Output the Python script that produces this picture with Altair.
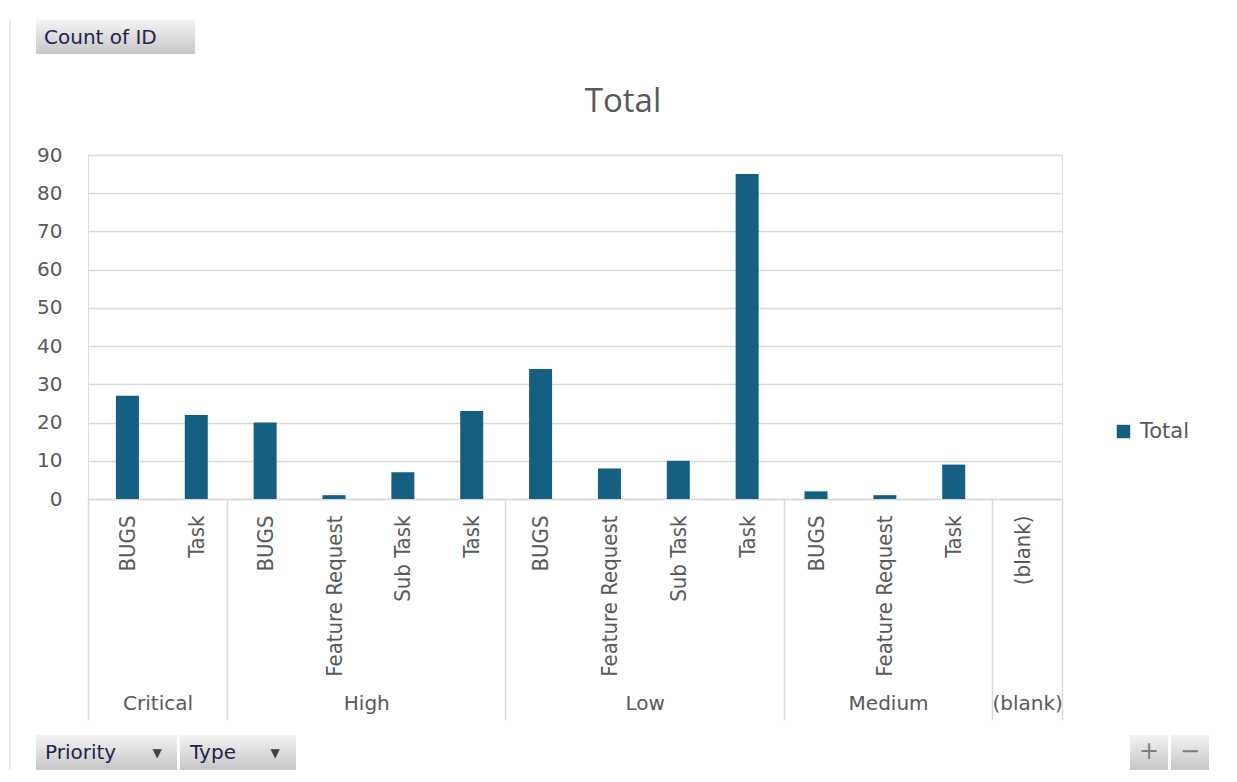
import altair as alt
import pandas as pd

# ---------------- data ----------------
priorities = ["Critical", "Critical", "High", "High", "High", "High",
              "Low", "Low", "Low", "Low", "Medium", "Medium", "Medium", "(blank)"]
types = ["BUGS", "Task", "BUGS", "Feature Request", "Sub Task", "Task",
         "BUGS", "Feature Request", "Sub Task", "Task",
         "BUGS", "Feature Request", "Task", "(blank)"]
counts = [27, 22, 20, 1, 7, 23, 34, 8, 10, 85, 2, 1, 9, 0]
group_order = ["Critical", "High", "Low", "Medium", "(blank)"]
y_ticks = [0, 10, 20, 30, 40, 50, 60, 70, 80, 90]
series_name = "Total"
chart_title = "Total"

# ---------------- derived tables ----------------
n = len(types)
bars = pd.DataFrame({
    "priority": priorities,
    "type": types,
    "count": counts,
    "pos": [i + 0.5 for i in range(n)],
    "series": [series_name] * n,
})

starts, ends = [], []
for g in group_order:
    idx = [i for i, p in enumerate(priorities) if p == g]
    starts.append(min(idx))
    ends.append(max(idx) + 1)
groups = pd.DataFrame({
    "group": group_order,
    "center": [(s + e) / 2 for s, e in zip(starts, ends)],
})
boundaries = sorted(set(starts + ends))
bounds = pd.DataFrame({"b": boundaries})

GRAY = "#d9d9d9"
TXT = "#595959"
BAR = "#156082"
NARROW = "Liberation Sans Narrow, DejaVu Sans Condensed, Arial Narrow, sans-serif"
SANS = "DejaVu Sans, Verdana, sans-serif"

xscale = alt.Scale(domain=[0, n], nice=False, zero=False)

type_expr = "[" + ",".join("'%s'" % t for t in types) + "][floor(datum.value)]"
grp_expr = ""
for g, c in zip(groups["group"], groups["center"]):
    grp_expr += "datum.value == %s ? '%s' : " % (c, g)
grp_expr += "''"

bar_layer = alt.Chart(bars).mark_bar(size=23).encode(
    x=alt.X("pos:Q", scale=xscale,
            axis=alt.Axis(orient="bottom", values=list(bars["pos"]), labelExpr=type_expr,
                          labelAngle=270, ticks=False, grid=False, domainColor=GRAY,
                          domainWidth=1.5, labelPadding=16, labelFont=NARROW, labelFontSize=22,
                          labelColor=TXT, title=None, labelOverlap=False, labelFlush=False,
                          labelBound=False)),
    y=alt.Y("count:Q", scale=alt.Scale(domain=[0, 90], nice=False),
            axis=alt.Axis(values=y_ticks, grid=True, gridColor=GRAY, gridWidth=1.5,
                          domain=False, ticks=False, labelPadding=26, labelFontSize=20,
                          labelFont=SANS, labelColor=TXT, title=None)),
    color=alt.Color("series:N", scale=alt.Scale(domain=[series_name], range=[BAR]),
                    legend=alt.Legend(title=None, orient="none", legendX=1025, legendY=266,
                                      symbolType="square", symbolSize=180, labelFontSize=21,
                                      labelFont=SANS, labelColor=TXT, symbolStrokeWidth=0,
                                      labelOffset=6, padding=0)),
)

group_layer = alt.Chart(groups).mark_point(opacity=0).encode(
    x=alt.X("center:Q", scale=xscale,
            axis=alt.Axis(orient="bottom", values=list(groups["center"]), labelExpr=grp_expr,
                          ticks=False, domain=False, grid=False, labelPadding=194,
                          labelFont=SANS, labelFontSize=20, labelColor=TXT, title=None,
                          labelOverlap=False, labelFlush=False, labelBound=False)),
)

bound_layer = alt.Chart(bounds).mark_point(opacity=0).encode(
    x=alt.X("b:Q", scale=xscale,
            axis=alt.Axis(orient="bottom", values=boundaries, labels=False, ticks=True,
                          tickSize=221, tickColor=GRAY, tickWidth=1.5, domain=False,
                          grid=False, title=None)),
)

one = pd.DataFrame({"k": [0]})
grad = alt.LinearGradient(gradient="linear",
                          stops=[alt.GradientStop(color="#f3f3f3", offset=0),
                                 alt.GradientStop(color="#c6c6c6", offset=1)],
                          x1=0, x2=0, y1=0, y2=1)


def button(x0, x1, y0, y1):
    return alt.Chart(one).mark_rect(color=grad).encode(
        x=alt.value(x0), x2=alt.value(x1), y=alt.value(y0), y2=alt.value(y1))


def label(text, x, y, size, color, align="left", font=SANS):
    return alt.Chart(one).mark_text(text=text, align=align, baseline="middle",
                                    fontSize=size, color=color, font=font).encode(
        x=alt.value(x), y=alt.value(y))


ox, oy = 88, 155  # plot origin in page coords

deco = [
    alt.Chart(one).mark_rule(color=GRAY, strokeWidth=1).encode(
        x=alt.value(10 - ox), y=alt.value(20 - oy), y2=alt.value(782 - oy)),
    label(chart_title, 623 - ox, 102 - oy, 33, TXT, align="center", font="Open Sans"),
    button(36 - ox, 195 - ox, 20 - oy, 54 - oy),
    label("Count of ID", 44 - ox, 38 - oy, 20, "#24244e"),
    button(36 - ox, 177 - ox, 735 - oy, 770 - oy),
    label("Priority", 45 - ox, 753 - oy, 20, "#24244e"),
    label("▼", 157 - ox, 753 - oy, 12, "#404040", align="center"),
    button(180 - ox, 296 - ox, 735 - oy, 770 - oy),
    label("Type", 190 - ox, 753 - oy, 20, "#24244e"),
    label("▼", 275 - ox, 753 - oy, 12, "#404040", align="center"),
    button(1130 - ox, 1168 - ox, 735 - oy, 770 - oy),
    label("+", 1149 - ox, 752 - oy, 24, "#7f7f7f", align="center"),
    button(1171 - ox, 1209 - ox, 735 - oy, 770 - oy),
    label("−", 1190 - ox, 752 - oy, 24, "#7f7f7f", align="center"),
]

chart = alt.layer(bound_layer, group_layer, bar_layer, *deco).resolve_scale(
    x="independent"
).properties(
    width=974, height=344,
    autosize=alt.AutoSizeParams(type="none"),
    padding={"left": 80, "top": 147, "right": 167, "bottom": 271},
).configure_view(stroke=None).configure(background="white")

chart.save("out.html", embed_options={"renderer": "svg", "actions": False})
